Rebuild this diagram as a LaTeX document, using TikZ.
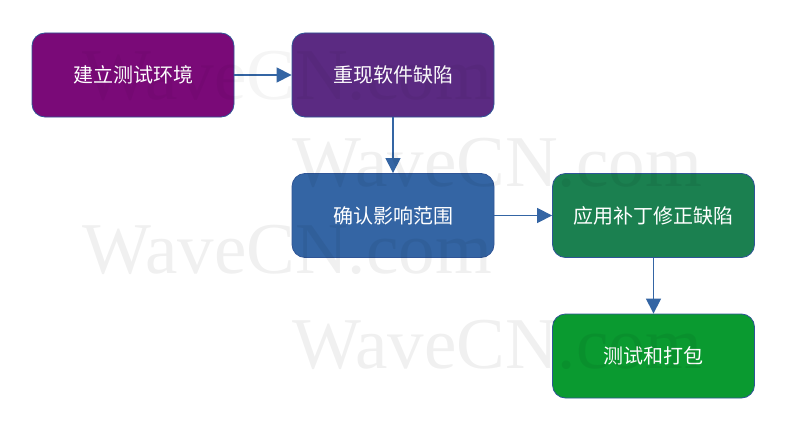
\documentclass[tikz,border=0pt]{standalone}
\usepackage{fontspec}
\newfontfamily\cjk{Noto Sans CJK SC}
\newfontfamily\wmfont{Liberation Serif}
\usetikzlibrary{arrows.meta}
\definecolor{cA}{HTML}{7A0A78}
\definecolor{cB}{HTML}{5B2A82}
\definecolor{cC}{HTML}{3465A4}
\definecolor{cD}{HTML}{1B8050}
\definecolor{cE}{HTML}{0A9A30}
\definecolor{edgeblue}{HTML}{2F5597}
\definecolor{arrowblue}{HTML}{3465A4}
\tikzset{
  stepbox/.style={draw=edgeblue, line width=0.8pt, rounded corners=13pt,
    minimum width=202pt, minimum height=84pt, inner sep=0pt,
    text=white, font=\cjk\fontsize{20}{24}\selectfont},
  flow/.style={draw=arrowblue, line width=1.2pt, -{Triangle[length=15pt,width=15pt]}},
  wm/.style={text=black, opacity=0.06, font=\wmfont\fontsize{73}{80}\selectfont, inner sep=0pt}
}
\begin{document}
\begin{tikzpicture}[x=1pt,y=-1pt]
\useasboundingbox[fill=white] (0,0) rectangle (786,433);
\node[stepbox, fill=cA] (a) at (133,75) {建立测试环境};
\node[stepbox, fill=cB] (b) at (393,75) {重现软件缺陷};
\node[stepbox, fill=cC] (c) at (393,215.5) {确认影响范围};
\node[stepbox, fill=cD] (d) at (653.5,215.5) {应用补丁修正缺陷};
\node[stepbox, fill=cE] (e) at (653.5,356) {测试和打包};
\draw[flow] (a) -- (b);
\draw[flow] (b) -- (c);
\draw[flow] (c) -- (d);
\draw[flow] (d) -- (e);
\node[wm, opacity=0.04] (w1) at (287,76) {WaveCN.com};
\node[wm] (w2) at (497,163) {WaveCN.com};
\node[wm] (w3) at (287,250) {WaveCN.com};
\node[wm] (w4) at (497,345) {WaveCN.com};
\end{tikzpicture}
\end{document}
